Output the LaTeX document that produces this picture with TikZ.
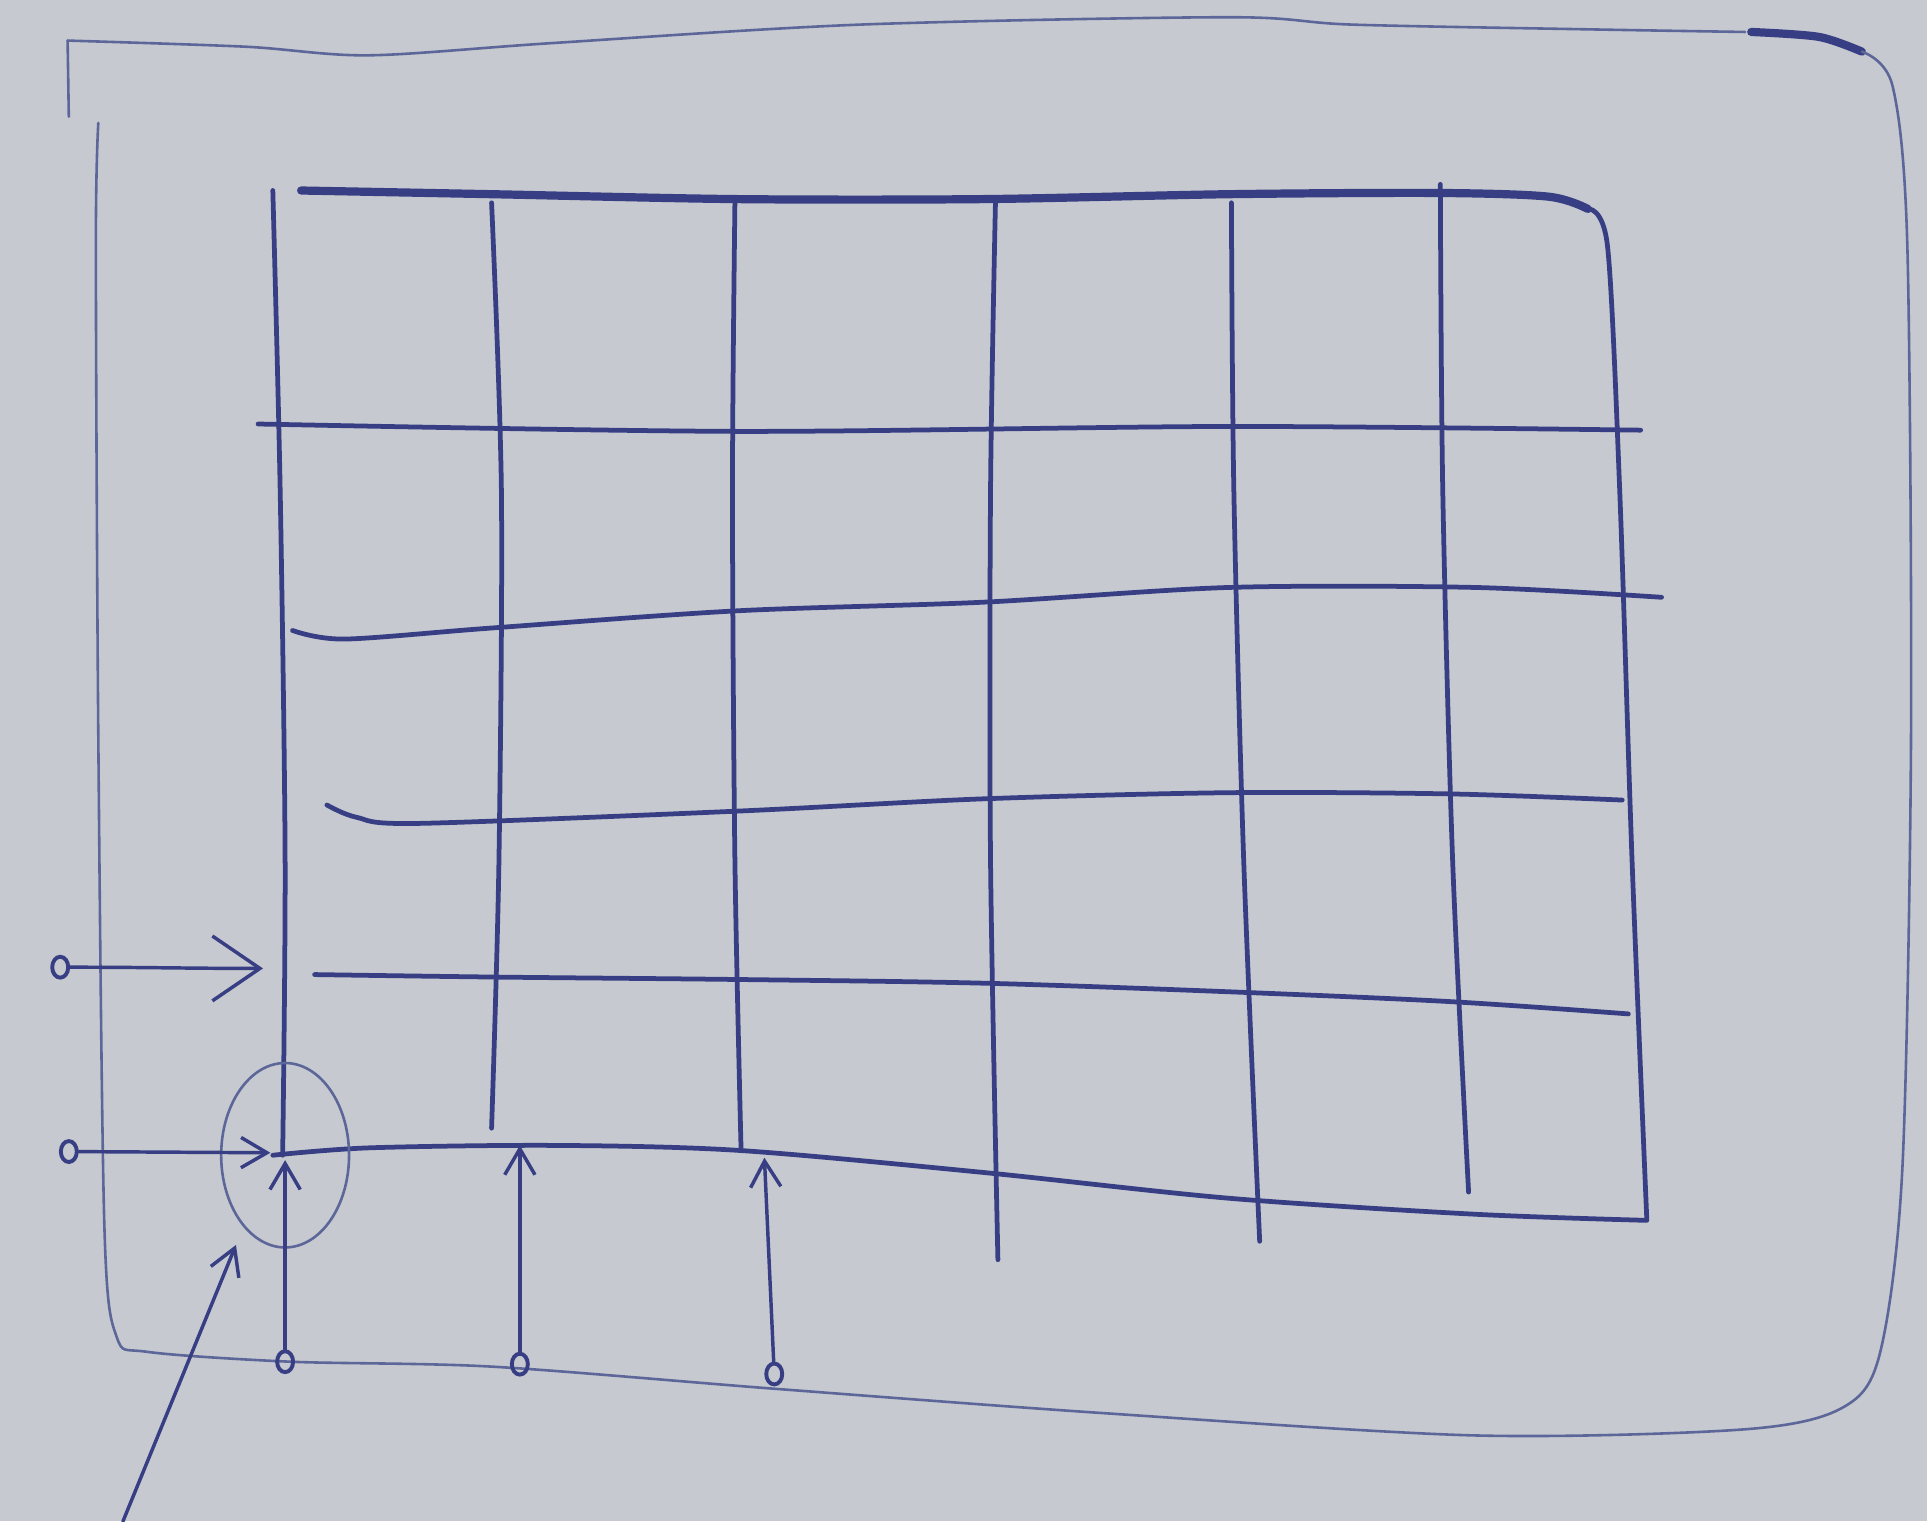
\documentclass[tikz,border=0pt]{standalone}
\usetikzlibrary{arrows.meta,shapes.geometric}
\definecolor{paper}{RGB}{198,201,207}
\definecolor{ink}{RGB}{55,62,132}
\definecolor{faint}{RGB}{92,102,152}
\tikzset{
  gridline/.style={draw=ink, line width=1.1pt, line cap=round, line join=round},
  thickline/.style={draw=ink, line width=1.9pt, line cap=round, line join=round},
  frameline/.style={draw=faint, line width=0.6pt, line cap=round, line join=round},
  port/.style={ellipse, draw=ink, line width=0.9pt, minimum width=0.13cm, minimum height=0.17cm, inner sep=0pt},
  feed/.style={draw=ink, line width=0.8pt, line cap=round, -{Straight Barb[length=6pt,width=7pt]}},
  bigfeed/.style={draw=ink, line width=0.8pt, line cap=round, -{Straight Barb[length=11pt,width=15pt]}},
  ring/.style={ellipse, draw=faint, line width=0.6pt, minimum width=1.04cm, minimum height=1.5cm, inner sep=0pt},
}
\begin{document}
\begin{tikzpicture}[x=0.01cm,y=-0.01cm]
  \fill[paper] (0,0) rectangle (1568,1238);
  \useasboundingbox (0,0) rectangle (1568,1238);

  % outer sheet frame
  \draw[frameline] (56,95) -- (55,33);
  \draw[frameline] plot[smooth] coordinates {(55,33) (200,38) (300,45) (450,35) (700,20) (1000,14) (1100,20) (1300,24) (1420,26)};
  \draw[thickline] plot[smooth] coordinates {(1425,26) (1480,30) (1515,42)};
  \draw[frameline] plot[smooth] coordinates {(1515,42) (1540,70) (1552,200) (1555,600) (1548,950) (1530,1100) (1500,1145) (1420,1163) (1200,1168) (900,1150) (630,1130) (400,1112) (236,1108) (120,1100) (95,1088) (85,1000) (80,600) (78,200) (80,100)};

  % grid: top edge and right edge (one stroke)
  \draw[thickline] plot[smooth] coordinates {(245,155) (400,158) (600,162) (800,162) (1000,158) (1170,157) (1260,160) (1292,170)};
  \draw[gridline] plot[smooth] coordinates {(1292,170) (1308,200) (1318,400) (1328,700) (1340,992)};
  % horizontal lines
  \draw[gridline] plot[smooth] coordinates {(210,345) (600,351) (1000,347) (1335,350)};
  \draw[gridline] plot[smooth] coordinates {(238,513) (280,520) (400,511) (600,497) (800,490) (1000,478) (1200,478) (1352,486)};
  \draw[gridline] plot[smooth] coordinates {(266,655) (290,665) (340,670) (600,660) (800,650) (1000,645) (1180,646) (1320,651)};
  \draw[gridline] plot[smooth] coordinates {(256,793) (400,795) (600,797) (800,800) (1000,807) (1180,815) (1325,825)};
  \draw[gridline] plot[smooth] coordinates {(222,940) (300,934) (450,932) (600,936) (800,954) (1000,975) (1200,988) (1340,993)};
  % vertical lines
  \draw[gridline] plot[smooth] coordinates {(222,155) (228,400) (232,700) (230,940)};
  \draw[gridline] plot[smooth] coordinates {(400,165) (408,400) (406,700) (400,918)};
  \draw[gridline] plot[smooth] coordinates {(598,165) (596,400) (598,700) (603,935)};
  \draw[gridline] plot[smooth] coordinates {(810,165) (806,400) (806,700) (812,1025)};
  \draw[gridline] plot[smooth] coordinates {(1002,165) (1004,400) (1012,700) (1025,1010)};
  \draw[gridline] plot[smooth] coordinates {(1172,150) (1174,400) (1182,700) (1195,970)};

  % ports
  \node[port] (p1) at (49,787) {};
  \node[port] (p2) at (56,937) {};
  \node[port] (b1) at (232,1108) {};
  \node[port] (b2) at (423,1110) {};
  \node[port] (b3) at (630,1118) {};
  \coordinate (j1) at (214,788);
  \coordinate (j0) at (220,938);
  \coordinate (j0b) at (232,944);
  \coordinate (j2) at (423,932);
  \coordinate (j3) at (622,942);
  \coordinate (s) at (100,1238);
  \coordinate (e) at (192,1013);

  % ring around the corner junction
  \node[ring] (r) at (232,940) {};

  % feeds
  \draw[bigfeed] (p1) to[out=0,in=180] (j1);
  \draw[feed] (p2) -- (j0);
  \draw[feed] (b1) -- (j0b);
  \draw[feed] (b2) -- (j2);
  \draw[feed] (b3) -- (j3);
  \draw[feed] (s) -- (e);
\end{tikzpicture}
\end{document}
